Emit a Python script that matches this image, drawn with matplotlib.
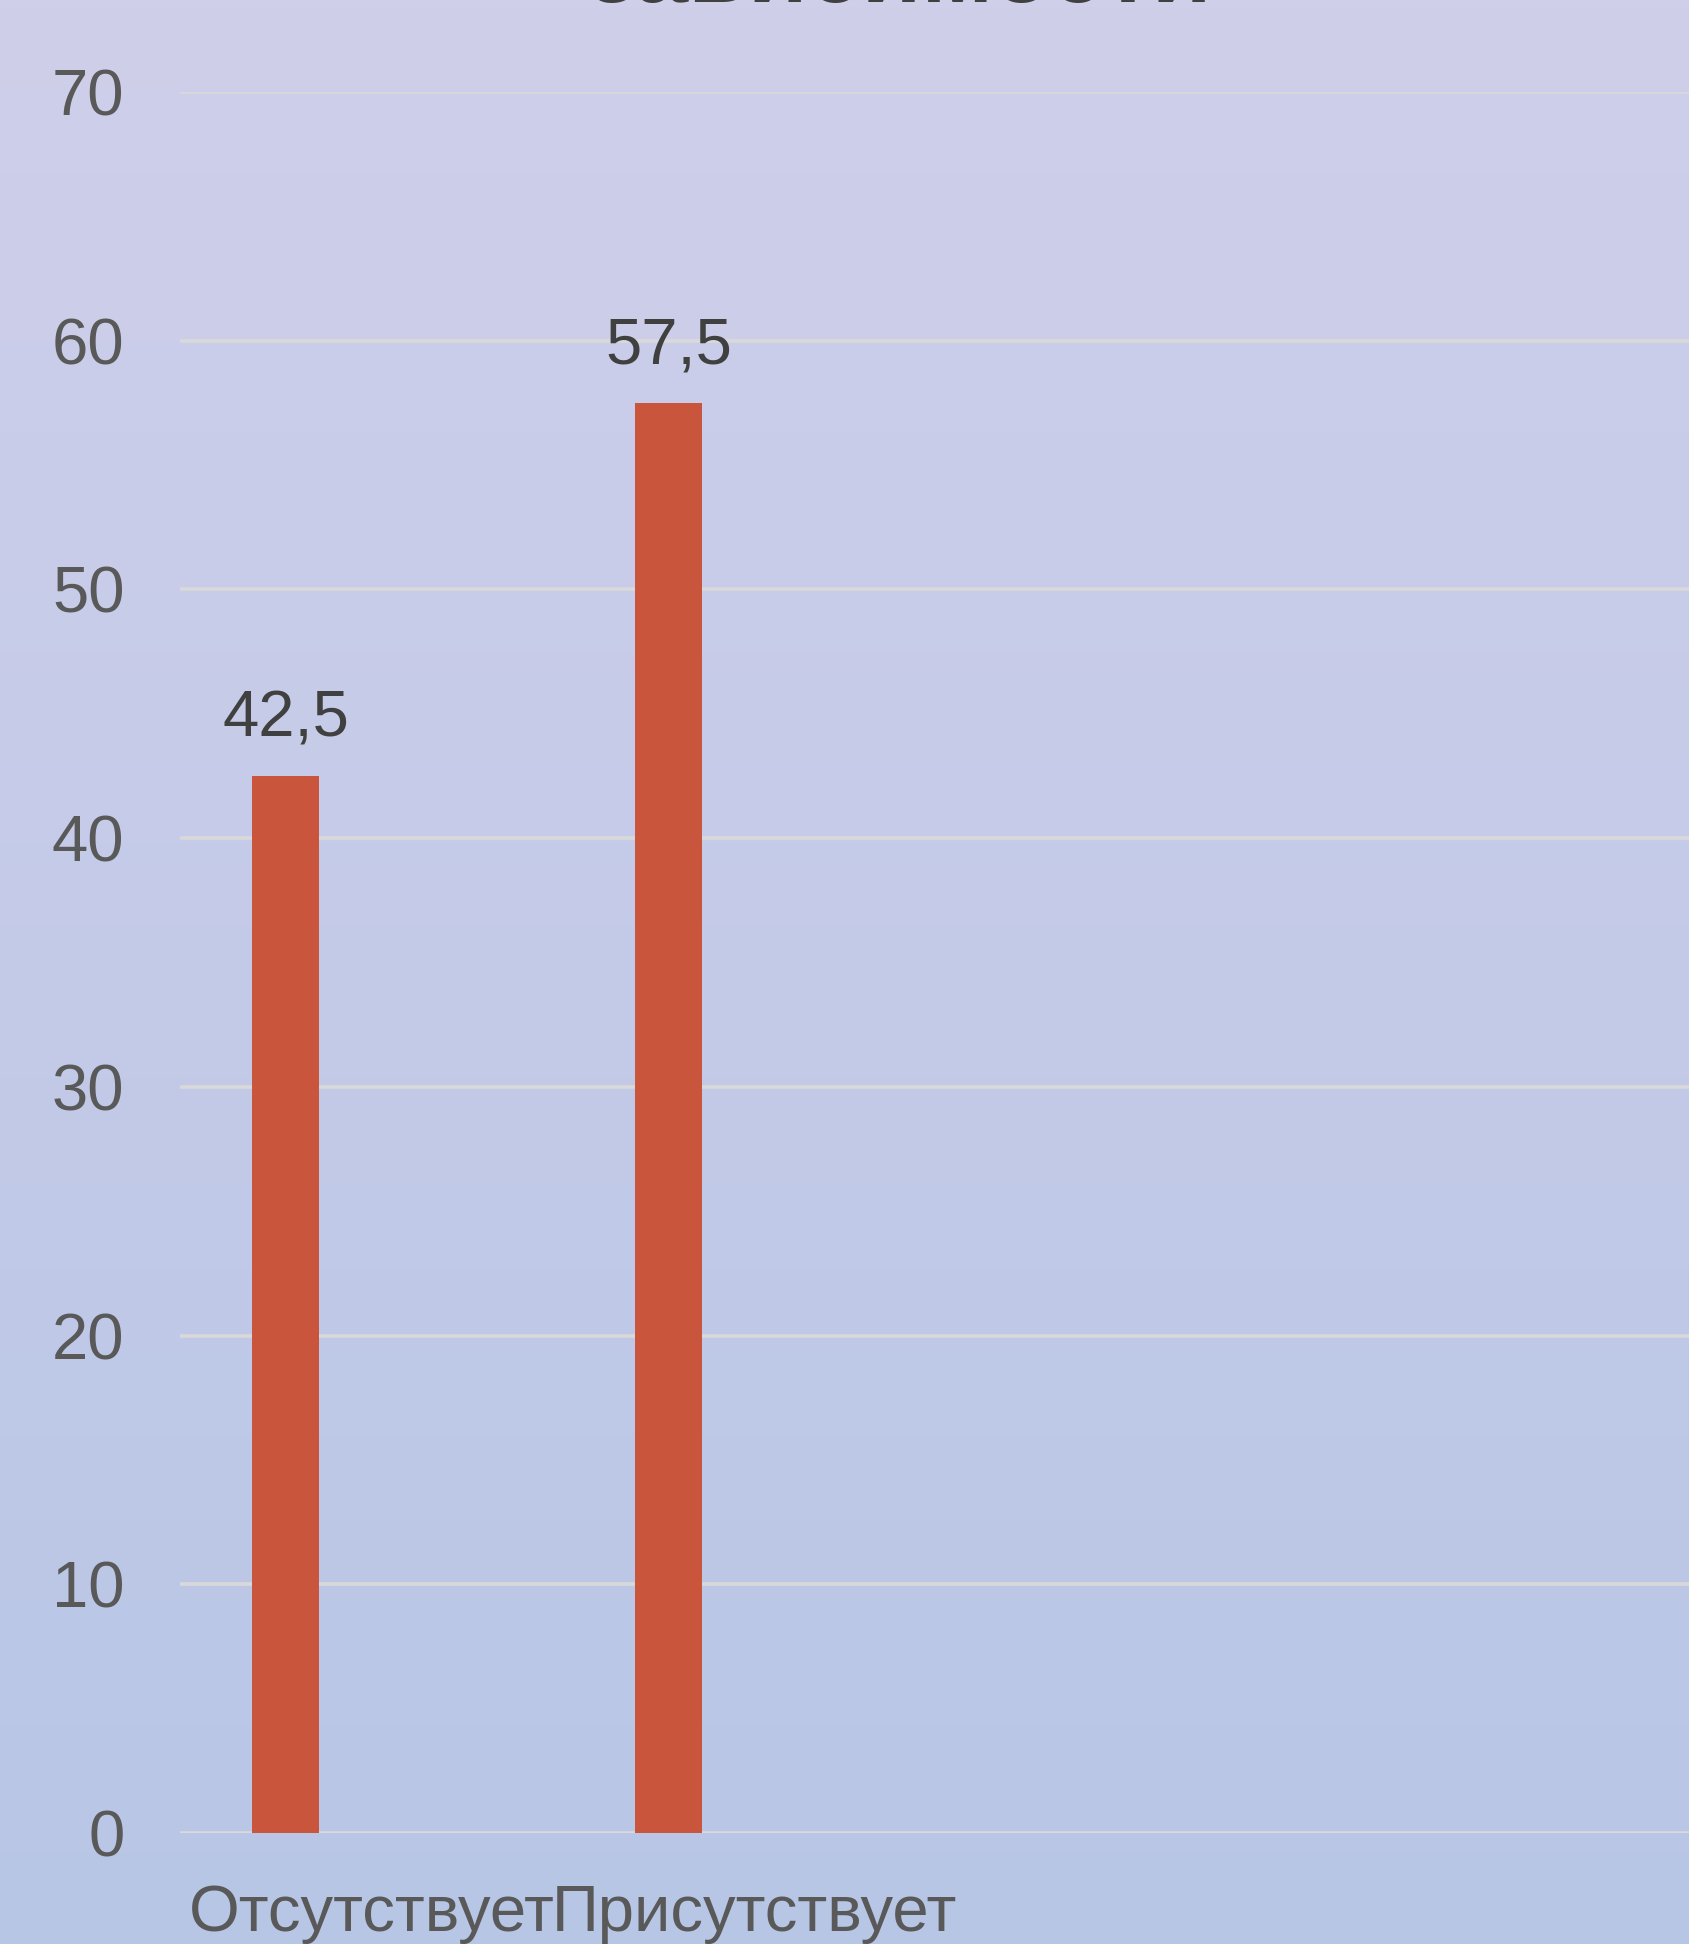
import matplotlib.pyplot as plt
import numpy as np

# data
categories = ['Отсутствует', 'Присутствует']
values = [42.5, 57.5]
value_labels = ['42,5', '57,5']
y_ticks = [0, 10, 20, 30, 40, 50, 60, 70]

W, H, DPI = 1689, 1944, 100
plt.rcParams['font.family'] = ['Liberation Sans', 'DejaVu Sans']

fig = plt.figure(figsize=(W / DPI, H / DPI), dpi=DPI)

# gradient background
bg = fig.add_axes([0, 0, 1, 1], zorder=-10)
top = np.array([207, 207, 234]) / 255
bottom = np.array([184, 198, 230]) / 255
t = np.linspace(0, 1, 256)[:, None]
grad = top * (1 - t) + bottom * t
bg.imshow(grad[:, None, :], aspect='auto', extent=[0, 1, 0, 1])
bg.axis('off')

# plot area in pixels: left 180, y=0 at 1833, y=70 at 92, category step 383 px
step = 383
left_px, zero_px, top_px = 180, 1833, 92
n_slots = 4
ax = fig.add_axes([left_px / W, (H - zero_px) / H,
                   n_slots * step / W, (zero_px - top_px) / H])
ax.set_facecolor('none')

x = np.arange(len(categories))
offset = -0.224
width = 0.176
bars = ax.bar(x + offset, values, width=width, color='#C9553C', zorder=3)

for xi, v, lab in zip(x, values, value_labels):
    ax.annotate(lab, (xi + offset, v), xytext=(0, 19), textcoords='offset points',
                ha='center', va='bottom', fontsize=47, color='#404040')

ax.set_xlim(-0.5, n_slots - 0.5)
ax.set_ylim(0, 70)
ax.set_yticks(y_ticks)
ax.set_xticks(x)
ax.set_xticklabels(categories)
ax.tick_params(axis='both', length=0, labelsize=47, labelcolor='#595959')
ax.tick_params(axis='y', pad=40)
ax.tick_params(axis='x', pad=37)
ax.grid(axis='y', color='#D9D9D9', linewidth=2.6, zorder=1)
ax.set_axisbelow(True)
for s in ax.spines.values():
    s.set_visible(False)

# title is cut off at the top edge of the picture
fig.text(900 / W, 1 - 2 / H, 'зависимости', ha='center', va='baseline',
         fontsize=70, fontweight='bold', color='#404040')

fig.savefig('out.png', dpi=DPI)
